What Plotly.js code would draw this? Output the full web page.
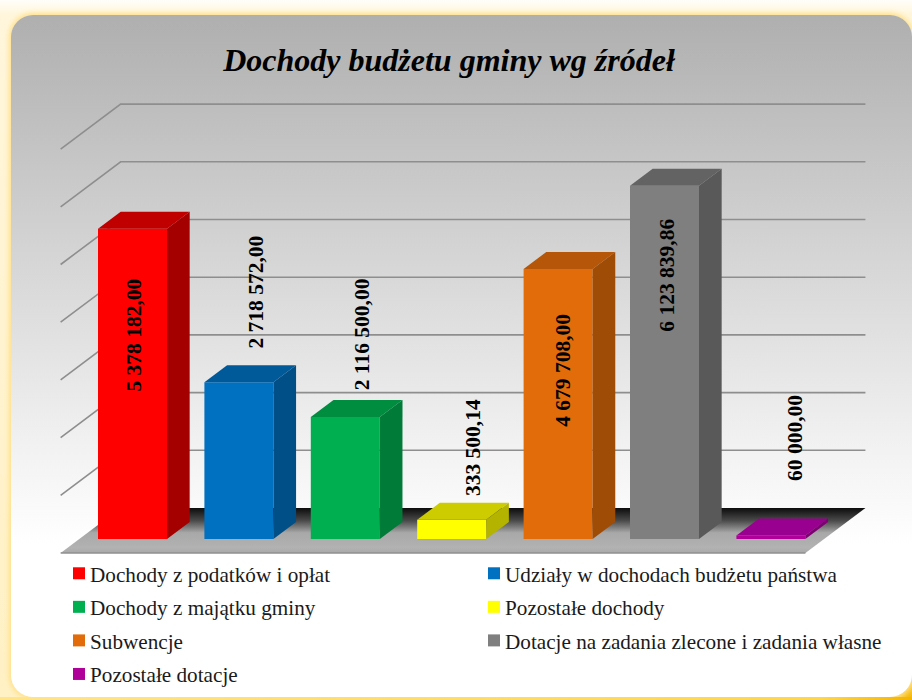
<!DOCTYPE html>
<html><head><meta charset="utf-8">
<script src="https://cdn.plot.ly/plotly-3.0.1.min.js"></script>
<style>
html,body{margin:0;padding:0;width:912px;height:700px;overflow:hidden;
background:radial-gradient(circle at 100% 100%,#f4b400 0,#ffd75a 22px,rgba(255,230,150,0) 45px),linear-gradient(to bottom,#fffef9 0,#fff6dc 14px,#fff1c4 100%);}
#panel{position:absolute;left:11px;top:15px;width:901px;height:682px;border-radius:22px;
background:linear-gradient(to bottom,#afafaf 0,#d4d4d4 235px,#f0f0f0 420px,#ffffff 530px);
box-shadow:0 0 5px 2px #ffe08a;}
#cover{position:absolute;left:0;top:697px;width:912px;height:3px;background:linear-gradient(to right,#ffe48a,#ffd64a 90%,#f4b400);}
#chart{position:absolute;left:0;top:0;width:912px;height:700px;}
.legendpoints{transform:translateX(9px);}
</style></head>
<body>
<div id="panel"></div><div id="cover"></div>
<div id="chart"></div>
<script>
const titleText = 'Dochody budżetu gminy wg źródeł';
const categories = ['Dochody z podatków i opłat','Udziały w dochodach budżetu państwa','Dochody z majątku gminy','Pozostałe dochody','Subwencje','Dotacje na zadania zlecone i zadania własne','Pozostałe dotacje'];
const values = [5378182.00, 2718572.00, 2116500.00, 333500.14, 4679708.00, 6123839.86, 60000.00];
const valueLabels = ['5 378 182,00','2 718 572,00','2 116 500,00','333 500,14','4 679 708,00','6 123 839,86','60 000,00'];
const labelValueY = [3535000, 4280000, 3553000, 1594000, 2930000, 4575000, 1750000];
const labelOffsetX = [0.01, 0.165, 0.16, 0.2, 0.045, 0.02, 0.226];
const frontColors = ['#ff0000','#0070c0','#00b050','#ffff00','#e36c0a','#7f7f7f','#b0009a'];
const topColors   = ['#c00000','#005a9a','#008d40','#cccc00','#b55608','#636363','#9a0090'];
const sideColors  = ['#a50000','#004f87','#007b38','#b3b300','#9f4c07','#595959','#7f0075'];
const legendGroup = ['legend','legend2','legend','legend2','legend','legend2','legend'];
const gridValues = [1000000,2000000,3000000,4000000,5000000,6000000,7000000];

// scale of the pseudo-3D projection
const pxPerCat = 106.4, pxPerUnit = 57.7e-6, originX = 132.5, originY = 539;
const barWidth = 69 / pxPerCat, barDepth = 17, slope = 4 / 3;
const floorBack = 31, floorFront = -14;
const proj = (i, v, depth) => [i + depth * slope / pxPerCat, v + depth / pxPerUnit];
const poly = pts => ({x: pts.map(p => p[0]), y: pts.map(p => p[1])});

const W = 912, H = 700;
const xRange = [-originX / pxPerCat, (W - originX) / pxPerCat];
const yRange = [(originY - H) / pxPerUnit, originY / pxPerUnit];

const traces = [];
// floor (behind everything)
const floor = poly([proj(-0.5,0,floorFront),proj(-0.5,0,floorBack),proj(6.5,0,floorBack),proj(6.5,0,floorFront),proj(-0.5,0,floorFront)]);
traces.push(Object.assign({type:'scatter',mode:'lines',fill:'toself',line:{width:0},showlegend:false,hoverinfo:'skip',
  fillgradient:{type:'vertical',start:floorFront/pxPerUnit,stop:floorBack/pxPerUnit,
    colorscale:[[0,'#a9a9a9'],[0.12,'#b2b2b2'],[0.45,'#a8a8a8'],[0.72,'#4a4a4a'],[1,'#0c0c0c']]}},floor));
// front edge of floor
traces.push(Object.assign({type:'scatter',mode:'lines',line:{color:'#8f8f8f',width:1.5},showlegend:false,hoverinfo:'skip'},
  poly([proj(-0.5,0,floorFront),proj(6.5,0,floorFront)])));
// grid
gridValues.forEach(v=>{
  traces.push(Object.assign({type:'scatter',mode:'lines',line:{color:'#8e8e8e',width:1.6},showlegend:false,hoverinfo:'skip'},
    poly([proj(-0.5,v,floorFront),proj(-0.5,v,floorBack),proj(6.5,v,floorBack)])));
});
// bars in overlay subplot so they sit above the grid
categories.forEach((c,i)=>{
  const v = values[i], h = barWidth/2;
  traces.push({type:'bar',x:[i],y:[v],width:[barWidth],name:c,xaxis:'x2',yaxis:'y2',
    marker:{color:frontColors[i],line:{width:0}},legend:legendGroup[i],legendgroup:'g'+i,hoverinfo:'name+y'});
  traces.push(Object.assign({type:'scatter',mode:'lines',fill:'toself',fillcolor:topColors[i],line:{width:0},xaxis:'x2',yaxis:'y2',showlegend:false,hoverinfo:'skip'},
    poly([proj(i-h,v,0),proj(i-h,v,barDepth),proj(i+h,v,barDepth),proj(i+h,v,0),proj(i-h,v,0)])));
  traces.push(Object.assign({type:'scatter',mode:'lines',fill:'toself',fillcolor:sideColors[i],line:{width:0},xaxis:'x2',yaxis:'y2',showlegend:false,hoverinfo:'skip'},
    poly([proj(i+h,0,0),proj(i+h,0,barDepth),proj(i+h,v,barDepth),proj(i+h,v,0),proj(i+h,0,0)])));
});

const annotations = valueLabels.map((t,i)=>({text:'<b>'+t+'</b>',x:i+labelOffsetX[i],y:labelValueY[i],xref:'x',yref:'y',
  showarrow:false,textangle:-90,font:{family:'"Liberation Serif",serif',size:21.5,color:'#000'}}));

const axis = r => ({range:r,visible:false,fixedrange:true});
const legendBase = {yanchor:'top',xanchor:'left',orientation:'v',bgcolor:'rgba(0,0,0,0)',tracegroupgap:3,traceorder:'grouped',
  font:{family:'"Liberation Serif",serif',size:21.2,color:'#1a1a1a'}};
const layout = {
  width:W,height:H,autosize:false,margin:{l:0,r:0,t:0,b:0,pad:0},
  paper_bgcolor:'rgba(0,0,0,0)',plot_bgcolor:'rgba(0,0,0,0)',
  title:{text:'<b><i>'+titleText+'</i></b>',x:449/W,xanchor:'center',y:1-60/H,yanchor:'middle',xref:'paper',yref:'paper',
    font:{family:'"Liberation Serif",serif',size:32,color:'#000'}},
  xaxis:axis(xRange),yaxis:axis(yRange),
  xaxis2:Object.assign(axis(xRange),{overlaying:'x'}),yaxis2:Object.assign(axis(yRange),{overlaying:'y'}),
  barmode:'overlay',
  annotations,
  legend:Object.assign({},legendBase,{x:50/W,y:1-553/H}),
  legend2:Object.assign({},legendBase,{x:465/W,y:1-553/H})
};
Plotly.newPlot('chart',traces,layout,{displayModeBar:false});
</script>
</body></html>
